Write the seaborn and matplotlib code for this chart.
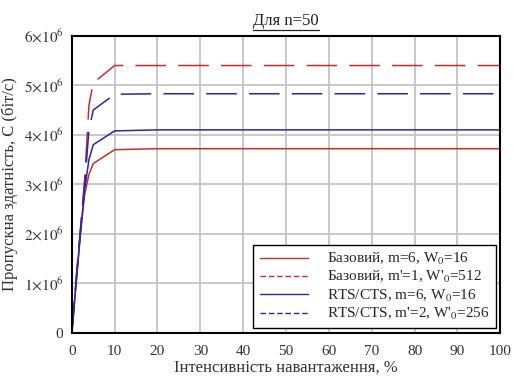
import numpy as np
import pandas as pd
import matplotlib
matplotlib.use("Agg")
import matplotlib.pyplot as plt
import seaborn as sns
from matplotlib.lines import Line2D

sns.set_theme(style="whitegrid")
plt.rcParams['font.family'] = ['Liberation Serif', 'DejaVu Serif']
plt.rcParams['mathtext.fontset'] = 'stix'

load = [0, 1, 2, 3, 4, 5, 10, 20, 30, 40, 50, 60, 70, 80, 90, 100]
base_m6 = [0, 1.0e6, 2.0e6, 2.8e6, 3.2e6, 3.42e6, 3.70e6, 3.72e6, 3.72e6, 3.72e6, 3.72e6, 3.72e6, 3.72e6, 3.72e6, 3.72e6, 3.72e6]
base_m1 = [0, 1.1e6, 2.1e6, 3.1e6, 4.6e6, 5.05e6, 5.40e6, 5.40e6, 5.40e6, 5.40e6, 5.40e6, 5.40e6, 5.40e6, 5.40e6, 5.40e6, 5.40e6]
rts_m6 = [0, 1.0e6, 2.0e6, 2.9e6, 3.5e6, 3.80e6, 4.08e6, 4.10e6, 4.10e6, 4.10e6, 4.10e6, 4.10e6, 4.10e6, 4.10e6, 4.10e6, 4.10e6]
rts_m2 = [0, 1.05e6, 2.05e6, 3.0e6, 4.1e6, 4.50e6, 4.82e6, 4.83e6, 4.83e6, 4.83e6, 4.83e6, 4.83e6, 4.83e6, 4.83e6, 4.83e6, 4.83e6]

labels = ["Базовий, m=6, W$_0$=16",
          "Базовий, m'=1, W'$_0$=512",
          "RTS/CTS, m=6, W$_0$=16",
          "RTS/CTS, m'=2, W'$_0$=256"]
series = [base_m6, base_m1, rts_m6, rts_m2]
colors = ["#c03030", "#c03030", "#2828a0", "#2828a0"]
dashed = [False, True, False, True]
x_ticks = list(range(0, 101, 10))
y_ticks = [0, 1e6, 2e6, 3e6, 4e6, 5e6, 6e6]
y_tick_labels = ["0"] + [r"$%d{\times}10^{6}$" % i for i in range(1, 7)]

fig = plt.figure(figsize=(5.13, 3.77), dpi=100)
ax = fig.add_axes([0.140, 0.117, 0.835, 0.788])

for lab, ys, c, d in zip(labels, series, colors, dashed):
    df = pd.DataFrame({"x": load, "y": ys})
    sns.lineplot(data=df, x="x", y="y", ax=ax, color=c, lw=1.1, label=lab)
    line = ax.lines[-1]
    if d:
        line.set_dashes((20, 8))

ax.set_xlim(0, 100)
ax.set_ylim(0, 6e6)
ax.set_xticks(x_ticks)
ax.set_xticklabels([str(v) for v in x_ticks], fontsize=11)
ax.set_yticks(y_ticks)
ax.set_yticklabels(y_tick_labels, fontsize=11)
ax.grid(True, color="#c4c4c4", lw=1.3)
for s in ax.spines.values():
    s.set_color("black")
    s.set_linewidth(1.5)
ax.tick_params(axis='x', length=0, pad=9, colors="#333333")
ax.tick_params(axis='y', length=0, pad=6, colors="#333333")
ax.set_xlabel("Інтенсивність навантаження, %", fontsize=12, color="#333333", labelpad=1)
ax.set_ylabel("Пропускна здатність, C (біт/с)", fontsize=12, color="#333333", labelpad=4)
title = ax.set_title("Для n=50", fontsize=12, color="#222222", pad=8)

leg = ax.legend(loc="lower right", fontsize=11, frameon=True, fancybox=False,
                edgecolor="black", framealpha=1, handlelength=3.2, borderpad=0.4,
                labelspacing=0.15, handletextpad=1.2, borderaxespad=0.3)
leg.get_frame().set_linewidth(1.0)
for h in leg.get_lines():
    h.set_linewidth(1.0)
for h, d in zip(leg.get_lines(), dashed):
    if d:
        h.set_dashes((4, 2))

fig.canvas.draw()
bb = title.get_window_extent()
W, H = fig.bbox.width, fig.bbox.height
yline = (bb.y0 - 1) / H
fig.add_artist(Line2D([bb.x0 / W, bb.x1 / W], [yline, yline], color="#222222", lw=0.9, transform=fig.transFigure))

fig.savefig("out.png", dpi=100, facecolor="white")
